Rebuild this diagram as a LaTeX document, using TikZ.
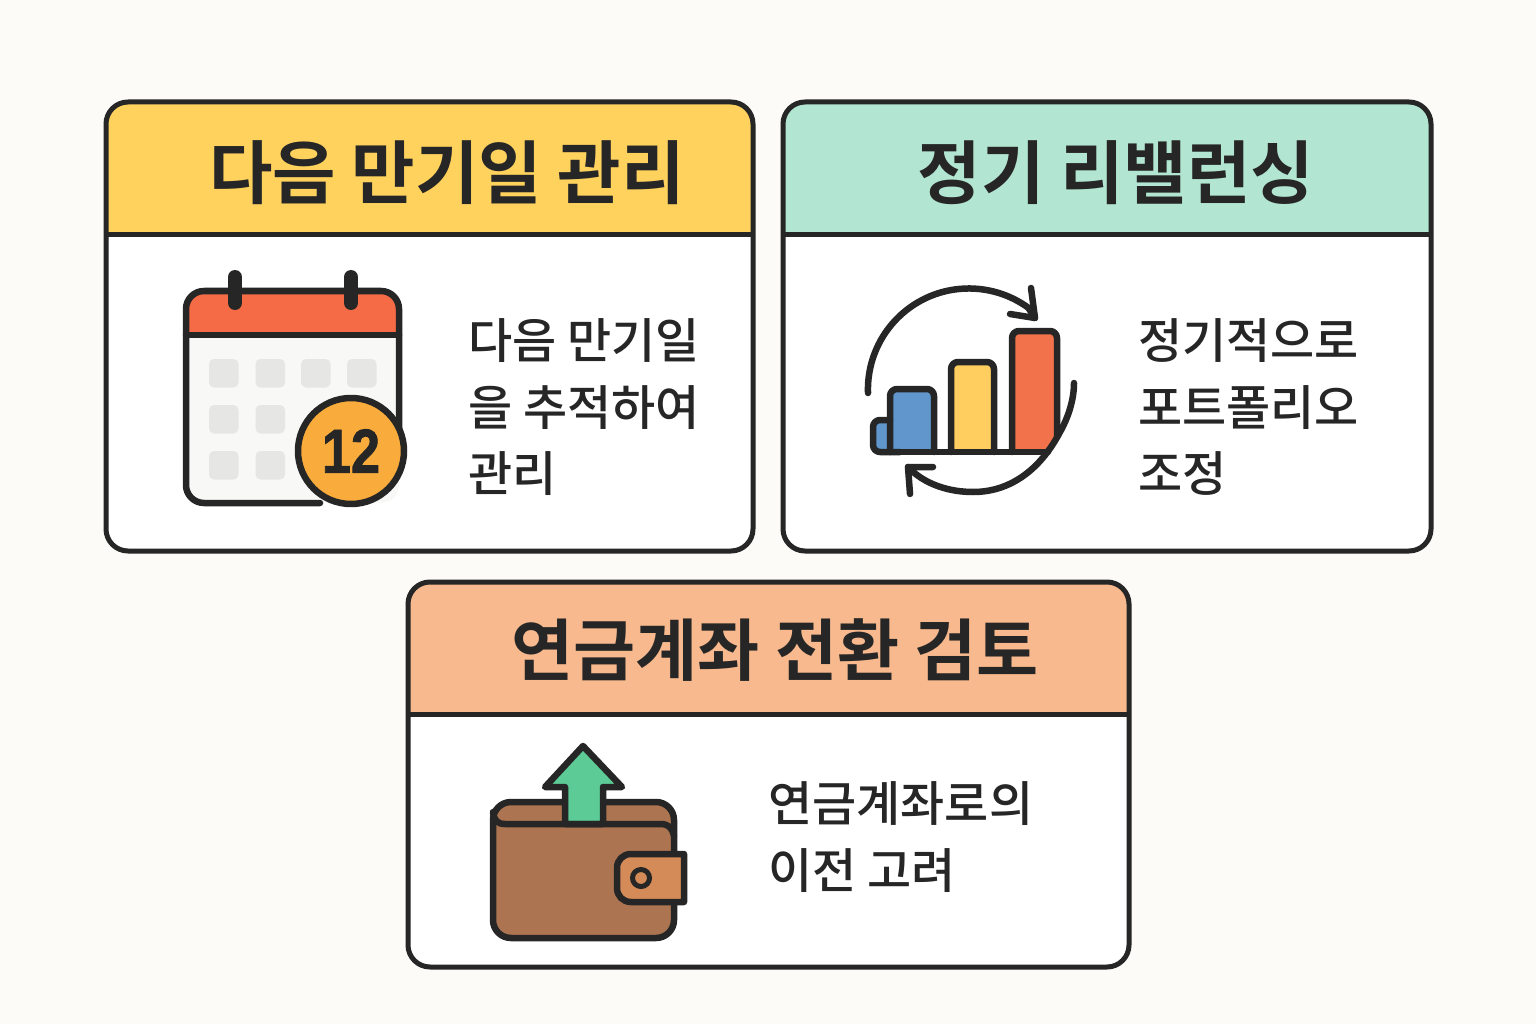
\documentclass[tikz,border=0pt]{standalone}
\usepackage{fontspec}
\usepackage{graphicx}
\newfontfamily\krreg{Noto Sans CJK KR Medium}
\newfontfamily\krbold{Noto Sans CJK KR Bold}
\newfontfamily\numfont[FakeBold=1.5]{Liberation Sans Bold}
\definecolor{bgc}{HTML}{FCFBF8}
\definecolor{ink}{HTML}{262626}
\definecolor{hdya}{HTML}{FFD25E}
\definecolor{hdmi}{HTML}{B2E6D2}
\definecolor{hdor}{HTML}{F7B98D}
\definecolor{calred}{HTML}{F56B45}
\definecolor{calbody}{HTML}{F8F8F7}
\definecolor{calsq}{HTML}{E6E6E4}
\definecolor{badge}{HTML}{F9AC3C}
\definecolor{barblue}{HTML}{6096CB}
\definecolor{baryel}{HTML}{FFCE5E}
\definecolor{barred}{HTML}{F2734B}
\definecolor{walbr}{HTML}{AC7451}
\definecolor{clasp}{HTML}{D48B57}
\definecolor{upgr}{HTML}{5CCB95}
\tikzset{
 outl/.style={draw=ink,line width=5pt,line join=round},
 icon/.style={draw=ink,line width=6.5pt,line join=round,line cap=round},
 titlet/.style={text=ink,inner sep=0pt,font=\krbold\fontsize{69}{80}\selectfont},
 bodyt/.style={text=ink,inner sep=0pt,align=left,anchor=north west,font=\krreg\fontsize{48}{66.5}\selectfont},
 sq/.style={fill=calsq,rounded corners=5pt}
}
\newcommand{\cardbox}[6]{%
 \fill[white,rounded corners=22pt] (#1,#2) rectangle (#3,#4);
 \fill[#6] (#1,#5) {[rounded corners=22pt] -- (#1,#2) -- (#3,#2)} -- (#3,#5) -- cycle;
 \draw[outl] (#1,#5) -- (#3,#5);
 \draw[outl,rounded corners=22pt] (#1,#2) rectangle (#3,#4);
}
\begin{document}
\begin{tikzpicture}[x=1pt,y=1pt,yscale=-1]
\useasboundingbox (0,0) rectangle (1536,1024);
\fill[bgc] (0,0) rectangle (1536,1024);
\cardbox{106}{102}{753}{551}{235}{hdya}
\cardbox{783}{102}{1431}{551}{235}{hdmi}
\cardbox{408}{582}{1129}{967}{714}{hdor}
\node[titlet] (t1) at (447,173) {다음 만기일 관리};
\node[titlet] (t2) at (1116,173) {정기 리밸런싱};
\node[titlet,font=\krbold\fontsize{67.5}{80}\selectfont] (t3) at (775,650) {연금계좌 전환 검토};
\node[bodyt] (b1) at (468,318.5) {다음 만기일\\을 추적하여\\관리};
\node[bodyt] (b2) at (1138,318.5) {정기적으로\\포트폴리오\\조정};
\node[bodyt] (b3) at (768,781.5) {연금계좌로의\\이전 고려};
% calendar
\fill[calbody,rounded corners=18pt] (186,291) rectangle (399,503);
\fill[calred] (186,335) {[rounded corners=18pt] -- (186,291) -- (399,291)} -- (399,335) -- cycle;
\draw[icon] (186,335) -- (399,335);
\draw[icon,rounded corners=18pt] (399,430) -- (399,291) -- (186,291) -- (186,503) -- (320,503);
\draw[ink,line width=14pt,line cap=round] (235,277) -- (235,303);
\draw[ink,line width=14pt,line cap=round] (351,277) -- (351,303);
\foreach \x in {209,255.5,301,347} \fill[sq] (\x,359) rectangle +(29.5,28.5);
\foreach \x in {209,255.5} {\fill[sq] (\x,405) rectangle +(29.5,28.5); \fill[sq] (\x,451) rectangle +(29.5,28.5);}
\draw[icon,fill=badge] (351,451) circle[radius=53];
\node[text=ink,inner sep=0pt,font=\numfont\fontsize{62}{62}\selectfont] (n12) at (351,451) {\scalebox{0.84}[1]{12}};
% chart
\fill[barblue] (873,420) rectangle (890,452);
\fill[barblue] (890,389) rectangle (934,452);
\fill[baryel] (951,362) rectangle (994,452);
\fill[barred] (1012,331) -- (1057,331) -- (1057,434) -- (1049,452) -- (1012,452) -- cycle;
\draw[icon,rounded corners=7pt] (900,452) -- (873,452) -- (873,420) -- (890,420);
\draw[icon,rounded corners=7pt] (890,452) -- (890,389) -- (934,389) -- (934,452);
\draw[icon,rounded corners=7pt] (951,452) -- (951,362) -- (994,362) -- (994,452);
\draw[icon,rounded corners=7pt] (1012,452) -- (1012,331) -- (1057,331) -- (1057,436);
\draw[icon] (890,452) -- (1048,452);
\coordinate (tipa) at (1035,318);
\draw[icon] (868,393) arc[start angle=178,end angle=306,radius=101] -- (tipa);
\draw[icon] (1031,288) -- (tipa) -- (1010,314);
\coordinate (tipb) at (908,467);
\draw[icon] (1074,383) .. controls (1074,400) and (1068,418) .. (1060,432) .. controls (1040,470) and (1010,492) .. (973,492) .. controls (950,492) and (925,485) .. (tipb);
\draw[icon] (933,467) -- (tipb) -- (910,494);
% wallet
\draw[icon,fill=walbr,rounded corners=18pt] (493,938) -- (493,802) -- (674,802) -- (674,938) -- cycle;
\draw[icon,fill=upgr] (565,824) -- (565,787) -- (545,787) -- (583,746) -- (622,787) -- (603,787) -- (603,824) -- cycle;
\draw[icon] (493,812) .. controls (494,820) and (497,824) .. (505,824) -- (660,824) .. controls (668,824) and (672,827) .. (674,836);
\draw[icon,fill=clasp] (684,854) -- (684,902) -- (631,902) .. controls (623,902) and (617,896) .. (617,888) -- (617,868) .. controls (617,860) and (623,854) .. (631,854) -- cycle;
\draw[draw=ink,line width=5pt,fill=clasp] (641,878) circle[radius=8.5];
\end{tikzpicture}
\end{document}
